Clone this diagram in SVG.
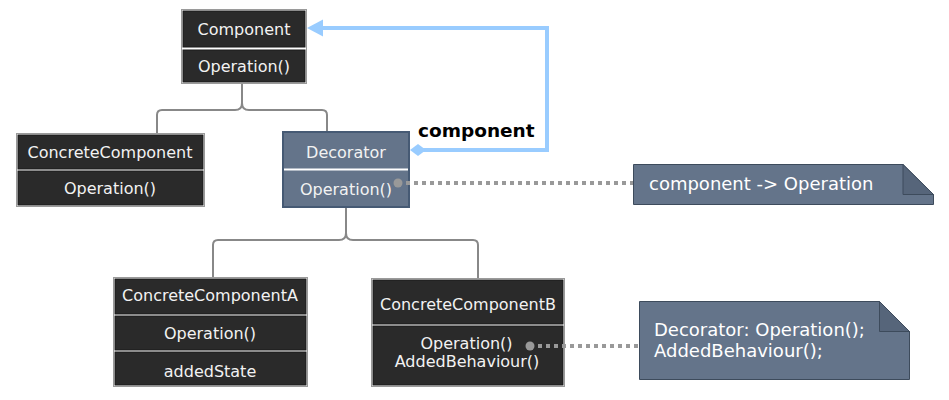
<svg xmlns="http://www.w3.org/2000/svg" width="949" height="400" viewBox="0 0 949 400">
<style>
text{font-family:"DejaVu Sans","Liberation Sans",sans-serif;}
.nt{font-size:16px;fill:#f2f2f2;text-anchor:middle;}
.frame{fill:#ffffff;stroke:#9a9a9a;stroke-width:1;}
.cell{fill:#2a2a2a;stroke:#1a1a1a;stroke-width:1;}
.tree{fill:none;stroke:#888;stroke-width:2;}
.dot{fill:none;stroke:#999;stroke-width:4;stroke-dasharray:4 4;}
.pin{fill:#999;}
.note{fill:#64748a;stroke:#3d4b5c;stroke-width:1;}
.fold{fill:#56657a;stroke:#3d4b5c;stroke-width:1;}
.ntxt{font-size:18px;fill:#ffffff;}
</style>

<g id="node-component">
<rect class="frame" x="181.5" y="9.5" width="125" height="74"/>
<rect class="cell" x="183" y="11" width="122" height="36"/>
<rect class="cell" x="183" y="50" width="122" height="32"/>
<text class="nt" x="244" y="35">Component</text>
<text class="nt" x="244" y="72">Operation()</text>
</g>

<g id="node-concretecomponent">
<rect class="frame" x="16.5" y="133.5" width="188" height="73"/>
<rect class="cell" x="18" y="135" width="185" height="34"/>
<rect class="cell" x="18" y="171" width="185" height="34"/>
<text class="nt" x="110" y="158">ConcreteComponent</text>
<text class="nt" x="110" y="194">Operation()</text>
</g>

<g id="node-decorator">
<rect x="283" y="132" width="126" height="75" fill="#64748a" stroke="#465a74" stroke-width="2"/>
<line x1="284" y1="169.5" x2="408" y2="169.5" stroke="#ffffff" stroke-width="2"/>
<text class="nt" x="346" y="158">Decorator</text>
<text class="nt" x="346" y="195">Operation()</text>
</g>

<g id="node-concretecomponenta">
<rect class="frame" x="113.5" y="277.5" width="194" height="109"/>
<rect class="cell" x="115" y="279" width="191" height="35"/>
<rect class="cell" x="115" y="316" width="191" height="34"/>
<rect class="cell" x="115" y="352" width="191" height="33"/>
<text class="nt" x="210" y="301">ConcreteComponentA</text>
<text class="nt" x="210" y="339">Operation()</text>
<text class="nt" x="210" y="377">addedState</text>
</g>

<g id="node-concretecomponentb">
<rect class="frame" x="371.5" y="278.5" width="193" height="108"/>
<rect class="cell" x="373" y="280" width="190" height="44"/>
<rect class="cell" x="373" y="326" width="190" height="59"/>
<text class="nt" x="468" y="310">ConcreteComponentB</text>
<text class="nt" x="466.5" y="349">Operation()</text>
<text class="nt" x="467" y="367">AddedBehaviour()</text>
</g>

<g id="note-1">
<path class="note" d="M633.5,164.5 H903 L933.5,194.5 V204.5 H633.5 Z"/>
<path class="fold" d="M903,164.5 V194.5 H933.5 Z"/>
<text class="ntxt" x="649" y="190">component -&gt; Operation</text>
</g>

<g id="note-2">
<path class="note" d="M639.5,301.5 H879.5 L909.5,331.5 V379.5 H639.5 Z"/>
<path class="fold" d="M879.5,301.5 V331.5 H909.5 Z"/>
<text class="ntxt" x="654" y="336">Decorator: Operation();</text>
<text class="ntxt" x="654" y="357">AddedBehaviour();</text>
</g>

<g id="connectors">
<path class="tree" d="M242,84 V103 Q242,110 235,110 H162 Q157,110 157,115 V133"/>
<path class="tree" d="M242,84 V103 Q242,110 249,110 H322 Q327,110 327,115 V131"/>
<path class="tree" d="M346,208 V233 Q346,240 339,240 H218 Q213,240 213,245 V277"/>
<path class="tree" d="M346,208 V233 Q346,240 353,240 H473 Q478,240 478,245 V278"/>
<path d="M418,150 H547 V28 H322" fill="none" stroke="#99ccff" stroke-width="4"/>
<path d="M307,28 L323,19.5 L323,36.5 Z" fill="#99ccff"/>
<path d="M410,150 L418,144 L426,150 L418,156 Z" fill="#99ccff"/>
<text x="418" y="137" font-size="18.5" font-weight="bold" fill="#000">component</text>
<path class="dot" d="M406,183 H633"/>
<circle class="pin" cx="398" cy="183" r="4.5"/>
<path class="dot" d="M538,346 H639"/>
<circle class="pin" cx="530" cy="346" r="4.5"/>
</g>
</svg>
